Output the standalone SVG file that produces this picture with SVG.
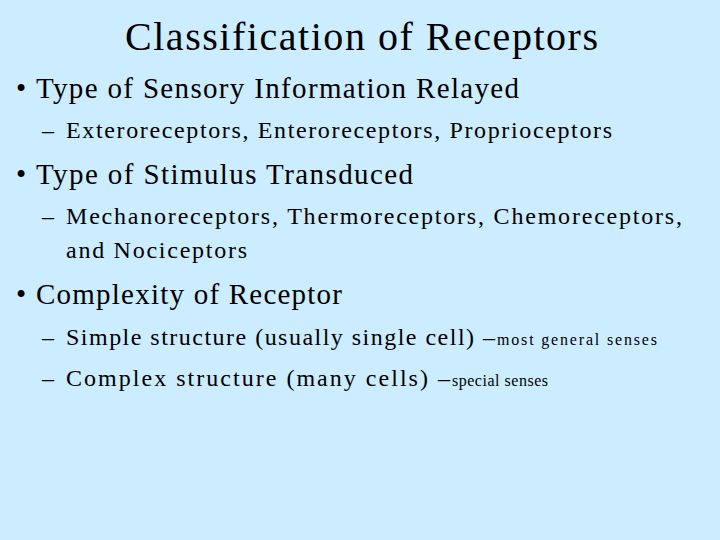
<svg xmlns="http://www.w3.org/2000/svg" width="720" height="540" viewBox="0 0 720 540">
<style>
text{font-family:"Liberation Serif","Times New Roman",serif;fill:#000}
.t{font-size:40px}
.b{font-size:29px}
.s{font-size:24px}
.m{font-size:16px}
</style>
<rect width="720" height="540" fill="#CCECFF"/>
<text class="t" x="125" y="50" textLength="473" lengthAdjust="spacing">Classification of Receptors</text>
<text class="b" x="16" y="98">•</text>
<text class="b" x="36" y="98" textLength="483" lengthAdjust="spacing">Type of Sensory Information Relayed</text>
<text class="s" x="42" y="138">–</text>
<text class="s" x="66" y="138" textLength="546" lengthAdjust="spacing">Exteroreceptors, Enteroreceptors, Proprioceptors</text>
<text class="b" x="16" y="184">•</text>
<text class="b" x="36" y="184" textLength="377" lengthAdjust="spacing">Type of Stimulus Transduced</text>
<text class="s" x="42" y="224">–</text>
<text class="s" x="66" y="224" textLength="616" lengthAdjust="spacing">Mechanoreceptors, Thermoreceptors, Chemoreceptors,</text>
<text class="s" x="66" y="258" textLength="181" lengthAdjust="spacing">and Nociceptors</text>
<text class="b" x="16" y="304">•</text>
<text class="b" x="36" y="304" textLength="306" lengthAdjust="spacing">Complexity of Receptor</text>
<text class="s" x="42" y="345">–</text>
<text class="s" x="66" y="345" textLength="429" lengthAdjust="spacing">Simple structure (usually single cell) –</text>
<text class="m" x="497" y="345" textLength="160" lengthAdjust="spacing">most general senses</text>
<text class="s" x="42" y="386">–</text>
<text class="s" x="66" y="386" textLength="384" lengthAdjust="spacing">Complex structure (many cells) –</text>
<text class="m" x="452" y="386" textLength="96" lengthAdjust="spacing">special senses</text>
</svg>
